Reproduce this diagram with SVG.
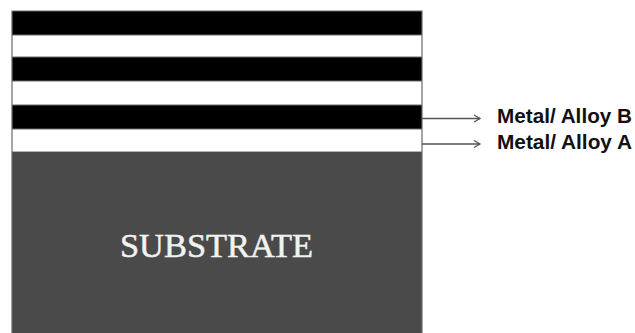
<svg xmlns="http://www.w3.org/2000/svg" width="635" height="333" viewBox="0 0 635 333">
  <style>
    .dark { fill: #000000; }
    .light { fill: #ffffff; }
    .sub { fill: #4a4a4a; }
    .edge { fill: none; stroke: #6a6a6a; stroke-width: 1.2; }
    .lbl { font-family: "Liberation Sans", Arial, sans-serif; font-weight: bold; font-size: 20px; fill: #111111; }
    .subtxt { font-family: "Liberation Serif", "Times New Roman", serif; font-size: 34px; fill: #f2f2f2; stroke: #f2f2f2; stroke-width: 0.5; }
    .lead { stroke: #555555; stroke-width: 1.3; fill: none; }
  </style>
  <defs>
    <marker id="chev" markerWidth="10" markerHeight="10" refX="8" refY="5" orient="auto" markerUnits="userSpaceOnUse">
      <path d="M2,1.5 L8,5 L2,8.5" fill="none" stroke="#555555" stroke-width="1.3"/>
    </marker>
  </defs>
  <rect width="635" height="333" fill="#ffffff"/>

  <!-- alternating multilayer stack -->
  <g id="layer-stack">
    <rect class="dark" x="12" y="11" width="410" height="24"/>
    <rect class="light" x="12" y="35" width="410" height="22"/>
    <rect class="dark" x="12" y="57" width="410" height="24"/>
    <rect class="light" x="12" y="81" width="410" height="24"/>
    <rect class="dark" x="12" y="105" width="410" height="24"/>
    <rect class="light" x="12" y="129" width="410" height="23"/>
    <path class="edge" d="M12,35 H422 M12,57 H422 M12,81 H422 M12,105 H422 M12,129 H422 M12,152 H422"/>
  </g>

  <!-- substrate block -->
  <g id="substrate">
    <rect class="sub" x="12" y="152" width="410" height="182"/>
    <text class="subtxt" x="216.5" y="257" text-anchor="middle" textLength="193" lengthAdjust="spacingAndGlyphs">SUBSTRATE</text>
  </g>

  <!-- outer outline -->
  <path class="edge" d="M12,334 V11 H422 V334"/>

  <!-- leader arrows -->
  <g id="connectors">
    <line class="lead" x1="422" y1="118.5" x2="480" y2="118.5" marker-end="url(#chev)"/>
    <line class="lead" x1="422" y1="144" x2="480" y2="144" marker-end="url(#chev)"/>
  </g>

  <g id="label-b">
    <text class="lbl" x="497" y="123" textLength="135" lengthAdjust="spacingAndGlyphs">Metal/ Alloy B</text>
  </g>
  <g id="label-a">
    <text class="lbl" x="497" y="148.5" textLength="135" lengthAdjust="spacingAndGlyphs">Metal/ Alloy A</text>
  </g>
</svg>
